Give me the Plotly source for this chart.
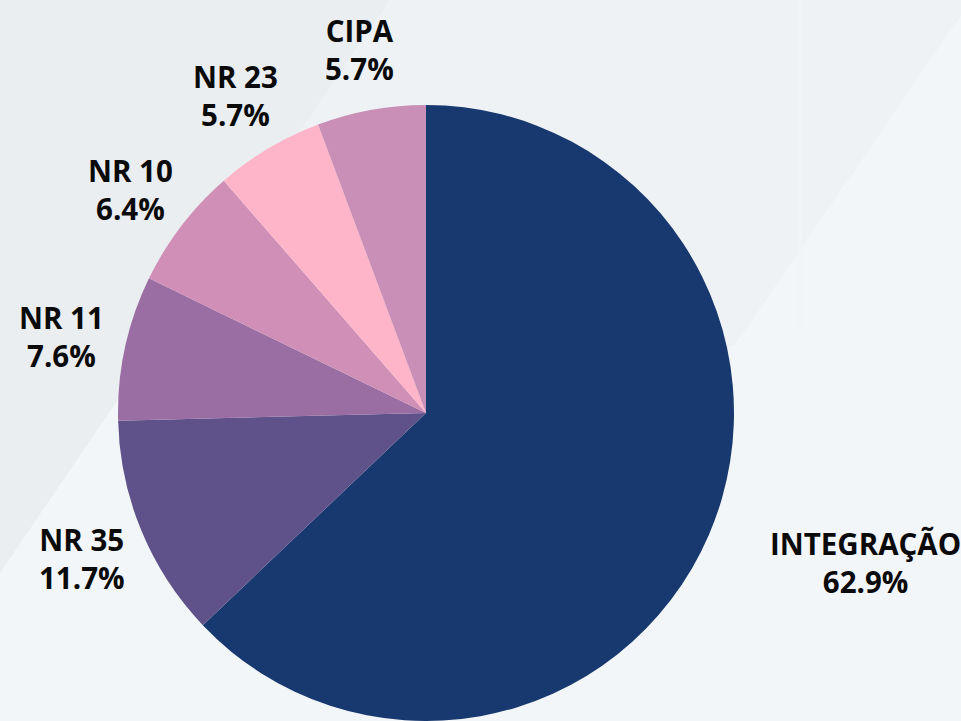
import math
import plotly.graph_objects as go

# ---- data ----
categories = ["INTEGRAÇÃO", "NR 35", "NR 11", "NR 10", "NR 23", "CIPA"]
percentages = [62.9, 11.7, 7.6, 6.4, 5.7, 5.7]
slice_colors = ["#18396F", "#5F5189", "#9A6EA2", "#D08FB6", "#FFB5C9", "#C98FB6"]

# ---- layout geometry (pixels) ----
W, H = 961, 721
CX, CY, R = 426, 413, 308
LABEL_FACTOR = 1.21

fig = go.Figure()
fig.add_trace(go.Pie(
    labels=categories,
    values=percentages,
    sort=False,
    direction="clockwise",
    rotation=0,
    marker=dict(colors=slice_colors, line=dict(width=0)),
    textinfo="none",
    hoverinfo="label+percent",
    showlegend=False,
    domain=dict(x=[(CX - R) / W, (CX + R) / W],
                y=[(H - CY - R) / H, (H - CY + R) / H]),
))

# labels placed along each slice's mid-angle
total = sum(percentages)
cum = 0.0
annotations = []
for cat, val in zip(categories, percentages):
    mid = (cum + val / 2) / total * 2 * math.pi
    cum += val
    dx, dy = math.sin(mid), -math.cos(mid)
    px = CX + dx * R * LABEL_FACTOR
    py = CY + 3 + dy * R * LABEL_FACTOR
    annotations.append(dict(
        x=px / W, y=1 - py / H, xref="paper", yref="paper",
        text=f"<b>{cat}<br>{val:.1f}%</b>",
        showarrow=False,
        xanchor="left" if dx > 0.5 else "center",
        yanchor="middle",
        align="center",
        font=dict(family="Open Sans", size=29.5, color="#0A0A0A"),
    ))

def P(x, y):
    return f"{x / W:.5f},{1 - y / H:.5f}"

shapes = [
    # darker upper-left triangle
    dict(type="path", xref="paper", yref="paper", layer="below",
         path=f"M {P(0,0)} L {P(390,0)} L {P(0,573)} Z",
         fillcolor="#EAEEF1", line=dict(width=0)),
    # mid-tone band at the top
    dict(type="path", xref="paper", yref="paper", layer="below",
         path=(f"M {P(390,0)} L {P(961,0)} L {P(961,15)} L {P(735,345)} "
               f"L {P(426,418)} L {P(117,400)} Z"),
         fillcolor="#EEF2F5", line=dict(width=0)),
    # faint vertical highlight
    dict(type="rect", xref="paper", yref="paper", layer="below",
         x0=798 / W, x1=802 / W, y0=1 - 330 / H, y1=1,
         fillcolor="#F2F5F8", line=dict(width=0)),
]

fig.update_layout(
    width=W, height=H, autosize=False,
    margin=dict(l=0, r=0, t=0, b=0),
    paper_bgcolor="#F3F6F9",
    plot_bgcolor="#F3F6F9",
    annotations=annotations,
    shapes=shapes,
    font=dict(family="Open Sans"),
)

fig.write_html(
    "out.html",
    config={"displayModeBar": False},
    post_script="document.body.style.margin='0';document.body.style.overflow='hidden';",
)
